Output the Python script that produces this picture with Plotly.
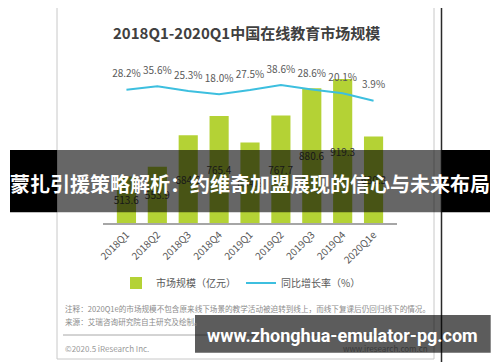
import plotly.graph_objects as go

# ---------------- data ----------------
quarters = ["2018Q1", "2018Q2", "2018Q3", "2018Q4", "2019Q1",
            "2019Q2", "2019Q3", "2019Q4", "2020Q1e"]
market_size = [513.6, 553.9, 684.8, 765.4, 654.8, 767.7, 880.6, 919.3, 680.3]
growth_rate = [28.2, 35.6, 25.3, 18.0, 27.5, 38.6, 28.6, 20.1, 3.9]

title_text = "2018Q1-2020Q1中国在线教育市场规模"
bar_name = "市场规模（亿元）"
line_name = "同比增长率（%）"
note_text = "注释：2020Q1e的市场规模不包含原来线下场景的教学活动被迫转到线上，而线下复课后仍回归线下的情况。"
source_text = "来源：艾瑞咨询研究院自主研究及绘制。"
copyright_text = "©2020.5 iResearch Inc."
site_text = "www.iresearch.com.cn"
banner_text = "蒙扎引援策略解析：约维奇加盟展现的信心与未来布局"
url_text = "www.zhonghua-emulator-pg.com"

# axis ranges
Y_MIN, Y_MAX = 319.6, 998.8
Y2_MIN, Y2_MAX = -266.7, 93.9

# ---------------- layout geometry (pixels in the 500x362 window) ----------------
OFF = 8  # page body margin of the browser
W, H = 500 - OFF, 362 - OFF
PL, PR, PT, PB = 103, 397, 60, 223  # plot area in window pixels
PW, PH = PR - PL, PB - PT


def PX(x):
    return (x - PL) / PW


def PY(y):
    return (PB - y) / PH


FONT = "Noto Sans CJK SC"
GREEN = "#b4d235"
BLUE = "#3dbfdf"

fig = go.Figure()

fig.add_trace(go.Bar(
    x=quarters,
    y=[v - Y_MIN for v in market_size],
    base=Y_MIN,
    name=bar_name,
    marker=dict(color=GREEN, line=dict(width=0)),
    text=[f"{v:.1f}" for v in market_size],
    textposition="inside",
    insidetextanchor="middle",
    textangle=0,
    constraintext="none",
    insidetextfont=dict(family=FONT, size=10, color="#404040"),
    cliponaxis=False,
    width=0.62,
))

fig.add_trace(go.Scatter(
    x=quarters,
    y=growth_rate,
    yaxis="y2",
    name=line_name,
    mode="lines+markers+text",
    line=dict(color=BLUE, width=2),
    marker=dict(size=14, color="rgba(0,0,0,0)", line=dict(width=0)),
    text=[f"{v:.1f}%" for v in growth_rate],
    textposition="top center",
    textfont=dict(family=FONT, size=10, color="#595959"),
    cliponaxis=False,
))

shapes = [
    # card
    dict(type="rect", xref="paper", yref="paper",
         x0=PX(57), x1=PX(434), y0=PY(0.5), y1=PY(359),
         line=dict(color="#c8c8c8", width=1), fillcolor="white", layer="below"),
    # right black rule
    dict(type="line", xref="paper", yref="paper",
         x0=PX(441.5), x1=PX(441.5), y0=PY(0), y1=PY(362),
         line=dict(color="#2a2a2a", width=1.5), layer="below"),
    # footer separator
    dict(type="line", xref="paper", yref="paper",
         x0=PX(63), x1=PX(430), y0=PY(335), y1=PY(335),
         line=dict(color="#a8a8a8", width=1), layer="below"),
    # banner band
    dict(type="rect", xref="paper", yref="paper",
         x0=PX(10), x1=PX(57), y0=PY(150), y1=PY(212.3),
         line=dict(width=0), fillcolor="black", layer="above"),
    dict(type="rect", xref="paper", yref="paper",
         x0=PX(57), x1=PX(441.5), y0=PY(150), y1=PY(212.3),
         line=dict(width=0), fillcolor="rgba(0,0,0,0.6)", layer="above"),
    dict(type="rect", xref="paper", yref="paper",
         x0=PX(441.5), x1=PX(490), y0=PY(150), y1=PY(212.3),
         line=dict(width=0), fillcolor="black", layer="above"),
    # url band
    dict(type="rect", xref="paper", yref="paper",
         x0=PX(195), x1=PX(490.7), y0=PY(315), y1=PY(352.7),
         line=dict(width=0), fillcolor="rgba(0,0,0,0.64)", layer="above"),
]

annotations = [
    dict(text=f"<b>{title_text}</b>", x=PX(246.7), y=PY(32),
         font=dict(family=FONT, size=15, color="#404040")),
    dict(text=note_text, x=PX(63), y=PY(308), xanchor="left",
         font=dict(family=FONT, size=7.6, color="#8c8c8c")),
    dict(text=source_text, x=PX(63), y=PY(321.5), xanchor="left",
         font=dict(family=FONT, size=7.6, color="#8c8c8c")),
    dict(text=copyright_text, x=PX(63), y=PY(348), xanchor="left",
         font=dict(family=FONT, size=8, color="#9a9a9a")),
    dict(text=site_text, x=PX(430), y=PY(348), xanchor="right",
         font=dict(family=FONT, size=8, color="#3a3a3a")),
    dict(text=f"<b>{banner_text}</b>", x=PX(250), y=PY(183),
         font=dict(family=FONT, size=20, color="white")),
    dict(text=f"<b>{url_text}</b>", x=PX(342), y=PY(335),
         font=dict(family="Roboto", size=18, color="white")),
]
for a in annotations:
    a.update(xref="paper", yref="paper", showarrow=False)
    a.setdefault("xanchor", "center")
    a.setdefault("yanchor", "middle")

fig.update_layout(
    width=W, height=H, autosize=False,
    margin=dict(l=PL - OFF, r=(W + OFF) - PR, t=PT - OFF, b=(H + OFF) - PB, pad=0),
    paper_bgcolor="white",
    plot_bgcolor="rgba(0,0,0,0)",
    font=dict(family=FONT, color="#595959"),
    bargap=0.38,
    xaxis=dict(
        type="category",
        showline=True, linecolor="#a6a6a6", linewidth=2,
        ticks="", showgrid=False, zeroline=False,
        tickangle=-45,
        tickfont=dict(family=FONT, size=10, color="#595959"),
    ),
    yaxis=dict(range=[Y_MIN, Y_MAX], visible=False, showgrid=False, zeroline=False),
    yaxis2=dict(range=[Y2_MIN, Y2_MAX], overlaying="y", side="right",
                visible=False, showgrid=False, zeroline=False),
    showlegend=True,
    legend=dict(orientation="h", x=PX(241), y=PY(283),
                xanchor="center", yanchor="middle",
                font=dict(family=FONT, size=10, color="#595959"),
                bgcolor="rgba(0,0,0,0)", itemwidth=30, tracegroupgap=0),
    shapes=shapes,
    annotations=annotations,
)

fig.write_html("out.html")
